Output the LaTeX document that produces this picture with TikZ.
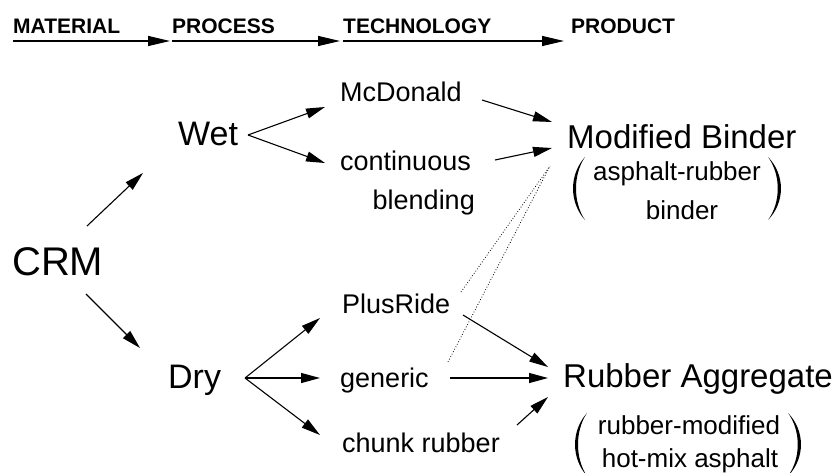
\documentclass[tikz,border=0pt]{standalone}
\usepackage{fontspec}
\setmainfont{Liberation Sans}
\usetikzlibrary{arrows.meta}
\begin{document}
\begin{tikzpicture}[x=1pt,y=-1pt,
  every node/.style={inner sep=0pt, anchor=base west},
  hdr/.style={font=\bfseries\fontsize{21}{25}\selectfont},
  big/.style={font=\fontsize{40}{48}\selectfont},
  mid/.style={font=\fontsize{34}{40}\selectfont},
  prod/.style={font=\fontsize{33}{40}\selectfont},
  tech/.style={font=\fontsize{27}{32}\selectfont},
  note/.style={font=\fontsize{26}{30}\selectfont, anchor=base},
  arr/.style={line width=1.1pt, -{Triangle[length=19pt,width=10pt]}},
  harr/.style={line width=1.3pt, -{Triangle[length=22pt,width=10pt]}},
  dots/.style={dotted, line width=0.8pt},
  lpar/.pic={\fill (0,0) .. controls (-1.33,0.28) and (-1.33,0.72) .. (0,1) .. controls (-1,0.72) and (-1,0.28) .. (0,0) -- cycle;}
]
\useasboundingbox (0,0) rectangle (836,472);

% header
\node[hdr] (mat) at (13,33) {MATERIAL};
\node[hdr] (proc) at (172,33) {PROCESS};
\node[hdr] (tech) at (343,33) {TECHNOLOGY};
\node[hdr] (prod) at (571,33) {PRODUCT};
\draw[harr, shorten >=2pt] ([yshift=-8pt]mat.base west) -- ([yshift=-8pt]proc.base west);
\draw[harr, shorten >=3pt] ([yshift=-8pt]proc.base west) -- ([yshift=-8pt]tech.base west);
\draw[harr, shorten >=7pt] ([yshift=-8pt]tech.base west) -- ([yshift=-8pt]prod.base west);

% nodes
\node[big] (crm) at (12,275) {CRM};
\node[mid] (wet) at (178,145) {Wet};
\node[mid] (dry) at (168,388) {Dry};
\node[tech] (mcd) at (340,101) {McDonald};
\node[tech] (cont) at (340,170) {continuous};
\node[tech, anchor=base east] (blend) at (475,209) {blending};
\node[tech] (plus) at (342,313) {PlusRide};
\node[tech] (gen) at (340,387) {generic};
\node[tech] (chunk) at (342,452) {chunk rubber};
\node[prod] (mb) at (567,148) {Modified Binder};
\node[prod] (ra) at (563,387) {Rubber Aggregate};
\node[note] (mb1) at (677,180) {asphalt-rubber};
\node[note] (mb2) at (682,219) {binder};
\node[note] (ra1) at (689,434) {rubber-modified};
\node[note] (ra2) at (690,467) {hot-mix asphalt};

% parentheses
\pic[xscale=12,yscale=63] at (585,157) {lpar};
\pic[xscale=-13,yscale=63] at (768,157) {lpar};
\pic[xscale=12,yscale=63] at (587,413) {lpar};
\pic[xscale=-13,yscale=63] at (788,413) {lpar};

% connector end points
\coordinate (crmO1) at (87,226);
\coordinate (wetI) at (143,173);
\coordinate (crmO2) at (86,294);
\coordinate (dryI) at (140,348);
\coordinate (wetA) at (248,135);
\coordinate (mcdI) at (325,107);
\coordinate (contI) at (325,163);
\coordinate (mcdO) at (482,100);
\coordinate (contO) at (495,160);
\coordinate (mbI1) at (552,122);
\coordinate (mbI2) at (552,148);
\coordinate (dryA) at (245,378);
\coordinate (plusI) at (320,318);
\coordinate (genI) at (320,378);
\coordinate (chunkI) at (320,435);
\coordinate (plusO) at (463,315);
\coordinate (genO) at (450,378);
\coordinate (chunkO) at (517,425);
\coordinate (raI1) at (548,367);
\coordinate (raI2) at (548,378);
\coordinate (raI3) at (548,397);
\coordinate (dotA) at (461,292);
\coordinate (dotB) at (448,362);
\coordinate (dotE) at (550,166);

% connectors
\draw[arr] (crmO1) -- (wetI);
\draw[arr] (crmO2) -- (dryI);
\draw[arr] (wetA) -- (mcdI);
\draw[arr] (wetA) -- (contI);
\draw[arr] (mcdO) -- (mbI1);
\draw[arr] (contO) -- (mbI2);
\draw[arr] (dryA) -- (plusI);
\draw[arr] (dryA) -- (genI);
\draw[arr] (dryA) -- (chunkI);
\draw[arr] (plusO) -- (raI1);
\draw[arr] (genO) -- (raI2);
\draw[arr] (chunkO) -- (raI3);
\draw[dots] (dotA) -- (dotE);
\draw[dots] (dotB) -- (dotE);
\end{tikzpicture}
\end{document}
